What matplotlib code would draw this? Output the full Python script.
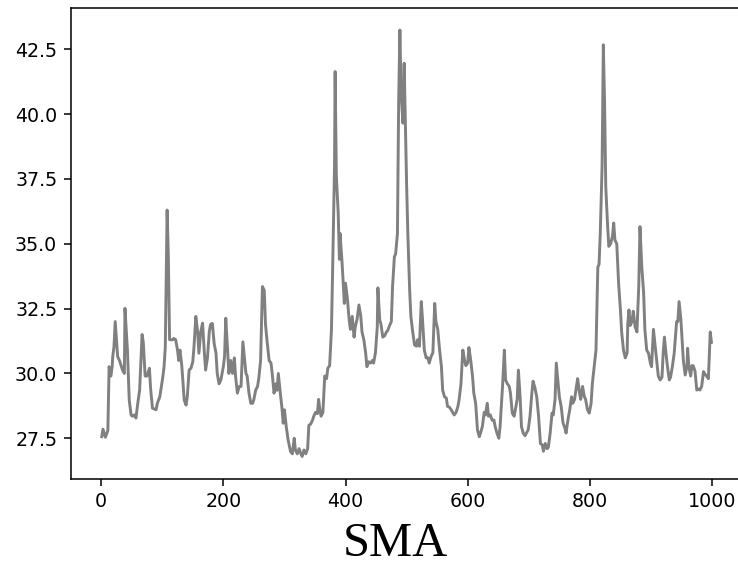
import matplotlib
matplotlib.use("Agg")
import matplotlib.pyplot as plt

# Series vertices (index, SMA value)
x_vals = [1, 3, 7, 11, 13, 16, 18, 19, 21, 23, 27, 30, 35, 38, 39, 43, 46, 49, 51, 54, 57, 60, 63, 67, 69,
          72, 75, 79, 81, 84, 90, 92, 96, 101, 103, 105, 108, 110, 112, 117, 119, 122, 125, 127, 129, 132,
          136, 139, 141, 144, 147, 150, 152, 155, 158, 160, 163, 166, 169, 171, 174, 177, 179, 182, 185, 188,
          190, 193, 196, 200, 202, 204, 207, 209, 212, 215, 218, 220, 223, 226, 229, 232, 235, 237, 239, 242,
          245, 248, 250, 253, 256, 258, 261, 264, 267, 269, 272, 275, 278, 280, 283, 286, 288, 290, 293, 296,
          298, 300, 303, 306, 310, 313, 316, 318, 321, 324, 327, 329, 332, 335, 338, 340, 343, 346, 348, 351,
          354, 356, 358, 360, 363, 366, 369, 371, 374, 377, 379, 382, 383, 385, 388, 390, 391, 394, 396, 398,
          400, 403, 406, 408, 411, 414, 416, 419, 422, 425, 427, 430, 433, 435, 438, 441, 444, 446, 449, 452,
          453, 456, 458, 461, 464, 467, 469, 472, 475, 477, 480, 482, 485, 487, 489, 491, 494, 496, 498, 500,
          502, 505, 507, 510, 513, 516, 518, 521, 524, 526, 529, 532, 535, 537, 540, 543, 546, 548, 551, 554,
          557, 559, 562, 565, 567, 570, 573, 576, 578, 581, 584, 586, 589, 592, 595, 597, 600, 602, 605, 608,
          610, 613, 616, 619, 621, 624, 627, 629, 632, 634, 637, 640, 643, 645, 648, 651, 653, 657, 660, 662,
          665, 668, 670, 673, 676, 678, 681, 683, 686, 688, 691, 694, 696, 699, 702, 705, 707, 710, 713, 716,
          719, 722, 724, 727, 730, 732, 735, 738, 740, 743, 745, 748, 750, 753, 756, 759, 761, 764, 767, 770,
          772, 775, 778, 780, 783, 785, 788, 791, 793, 796, 799, 802, 804, 807, 810, 813, 815, 817, 820, 822,
          824, 826, 829, 831, 834, 837, 839, 841, 844, 847, 850, 852, 855, 858, 861, 862, 864, 866, 869, 871,
          874, 877, 880, 882, 885, 888, 890, 893, 896, 899, 901, 904, 907, 910, 912, 915, 918, 920, 922, 924,
          927, 930, 932, 935, 938, 941, 942, 944, 946, 949, 951, 953, 956, 959, 960, 962, 965, 967, 969, 972,
          975, 978, 980, 983, 986, 989, 991, 994, 997, 999]

sma_vals = [27.56, 27.85, 27.54, 27.8, 30.26, 29.9, 30.26, 30.65, 31.03, 32.0, 30.65, 30.5, 30.13, 30.0, 32.51,
            30.9, 28.97, 28.4, 28.35, 28.4, 28.28, 28.86, 29.36, 31.5, 31.2, 29.9, 29.9, 30.2, 29.4, 28.66,
            28.6, 28.85, 29.1, 29.87, 30.26, 31.03, 36.3, 34.5, 31.3, 31.3, 31.35, 31.3, 30.9, 30.5, 30.9,
            30.3, 28.97, 28.78, 29.1, 30.13, 30.2, 30.45, 31.03, 32.2, 31.6, 30.78, 31.6, 31.94, 30.78, 30.13,
            30.6, 31.6, 31.88, 31.93, 31.15, 30.78, 30.0, 29.6, 29.75, 30.26, 30.65, 32.13, 30.9, 30.0, 30.5,
            30.0, 30.6, 29.9, 29.24, 29.5, 29.5, 31.22, 30.5, 30.0, 29.9, 29.24, 28.85, 28.85, 29.0, 29.36,
            29.5, 29.8, 30.5, 33.35, 33.2, 31.9, 31.15, 30.5, 30.4, 30.0, 29.24, 29.6, 29.35, 30.0, 29.3,
            28.66, 28.08, 28.6, 27.95, 27.44, 26.99, 26.9, 27.5, 27.05, 26.9, 27.1, 26.9, 26.8, 27.05, 26.9,
            27.1, 28.0, 28.05, 28.2, 28.35, 28.5, 28.45, 29.0, 28.6, 28.35, 28.5, 29.9, 29.8, 30.2, 30.3,
            31.7, 34.1, 38.0, 41.64, 37.6, 36.2, 34.4, 35.4, 34.4, 33.6, 32.7, 33.48, 32.9, 32.06, 31.7,
            32.2, 31.4, 31.8, 32.1, 32.64, 32.2, 31.6, 31.3, 30.78, 30.26, 30.45, 30.4, 30.5, 30.4, 30.8,
            31.8, 33.3, 32.06, 31.9, 31.4, 31.45, 31.6, 31.65, 31.84, 32.0, 33.35, 34.5, 34.6, 35.4, 40.5,
            43.24, 40.8, 39.65, 41.96, 39.65, 37.3, 35.4, 33.2, 32.2, 31.6, 31.1, 31.05, 31.3, 31.05, 32.77,
            32.1, 30.9, 30.6, 30.6, 30.4, 30.65, 30.8, 32.7, 32.0, 31.7, 30.9, 30.26, 29.36, 29.1, 29.05,
            28.73, 28.7, 28.6, 28.47, 28.4, 28.5, 28.73, 29.0, 29.6, 30.9, 30.5, 30.3, 30.4, 31.0, 30.5,
            29.87, 29.24, 28.85, 27.82, 27.56, 27.7, 27.95, 28.5, 28.4, 28.85, 28.35, 28.4, 28.2, 28.2, 27.95,
            27.69, 27.5, 27.95, 29.49, 30.9, 29.75, 29.6, 29.5, 29.24, 28.47, 28.35, 28.6, 29.0, 30.13, 29.0,
            27.95, 27.69, 27.6, 27.7, 27.82, 28.35, 29.24, 29.7, 29.45, 29.1, 28.35, 27.3, 27.25, 27.0, 27.3,
            27.1, 27.15, 27.7, 28.47, 28.4, 29.0, 30.4, 29.6, 29.1, 28.73, 28.1, 27.9, 27.7, 28.2, 28.6, 29.1,
            28.85, 29.0, 29.5, 29.8, 29.24, 29.0, 29.5, 29.1, 29.0, 28.6, 28.47, 28.85, 29.6, 30.26, 30.9,
            34.1, 34.2, 35.4, 38.0, 42.67, 40.5, 37.2, 35.7, 34.9, 35.0, 35.3, 35.8, 35.14, 35.0, 33.48,
            32.45, 31.6, 30.9, 30.6, 30.8, 31.9, 32.45, 31.85, 32.0, 32.4, 31.8, 31.6, 33.35, 35.66, 34.1,
            33.1, 31.7, 30.9, 30.78, 30.4, 30.26, 31.7, 31.03, 30.4, 29.9, 29.75, 29.85, 30.78, 31.4, 30.9,
            30.26, 29.75, 29.85, 30.26, 30.78, 31.7, 32.0, 32.0, 32.77, 32.06, 31.3, 30.5, 29.94, 30.3, 30.97,
            30.26, 29.9, 30.3, 30.3, 30.1, 29.36, 29.4, 29.36, 29.5, 30.07, 29.95, 29.9, 29.8, 31.6, 31.2]

x_ticks = [0, 200, 400, 600, 800, 1000]
y_ticks = [27.5, 30.0, 32.5, 35.0, 37.5, 40.0, 42.5]
x_label = "SMA"

W, H = 738, 567
fig = plt.figure(figsize=(W / 100, H / 100), dpi=100)
ax = fig.add_axes([70.6 / W, (H - 479) / H, (742 - 70.6) / W, (479 - 8) / H])

ax.plot(x_vals, sma_vals, color="grey", linewidth=2.1)
ax.set_xlim(-50, 1049)
ax.set_ylim(25.93, 44.09)
ax.set_xticks(x_ticks)
ax.set_yticks(y_ticks)
ax.set_yticklabels([f"{v:.1f}" for v in y_ticks])
ax.tick_params(labelsize=13.7, length=4.8, width=1.1, pad=4.8)
for s in ax.spines.values():
    s.set_linewidth(1.1)

fig.text(395 / W, 1 - 556 / H, x_label, family="Liberation Serif", fontsize=35,
         ha="center", va="baseline")

fig.savefig("out.png", dpi=100)
